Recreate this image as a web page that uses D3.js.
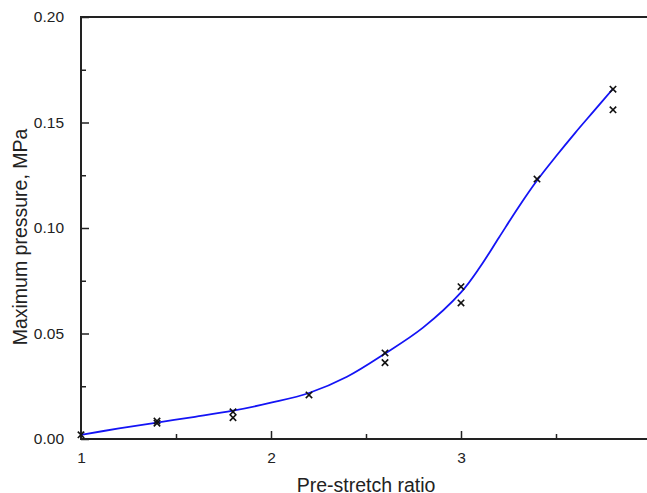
<!DOCTYPE html>
<html>
<head>
<meta charset="utf-8">
<script src="https://cdn.jsdelivr.net/npm/d3@7"></script>
<style>
  html, body { margin: 0; padding: 0; background: #fff; }
  svg { display: block; }
  text { font-family: "Liberation Sans", Arial, sans-serif; fill: #222; }
</style>
</head>
<body>
<script>
// Measured data points (x = pre-stretch ratio, y = maximum pressure, MPa)
const pointX = [1.0, 1.4, 1.4, 1.8, 1.8, 2.2, 2.6, 2.6, 3.0, 3.0, 3.4, 3.8, 3.8];
const pointY = [0.002, 0.0085, 0.0075, 0.0129, 0.0101, 0.0209, 0.0408, 0.0362, 0.0722, 0.0645, 0.1232, 0.1658, 0.156];

// Fitted curve
const curveX = [1.0, 1.2, 1.4, 1.6, 1.8, 2.0, 2.2, 2.4, 2.6, 2.8, 3.0, 3.1, 3.2, 3.3, 3.4, 3.5, 3.6, 3.7, 3.8];
const curveY = [0.002, 0.005, 0.0078, 0.0105, 0.0134, 0.0172, 0.0218, 0.0295, 0.0405, 0.0528, 0.0695, 0.0815, 0.0955, 0.1095, 0.1225, 0.1340, 0.1450, 0.1555, 0.166];

const xMajorTicks = [1, 2, 3, 4];
const xMinorTicks = [1.5, 2.5, 3.5];
const yMajorTicks = [0.00, 0.05, 0.10, 0.15, 0.20];
const yMinorTicks = [0.025, 0.075, 0.125, 0.175];

const xTitle = "Pre-stretch ratio";
const yTitle = "Maximum pressure, MPa";

(function () {
const W = 647, H = 493;
const mLeft = 81, mRight = 651, mTop = 17, mBottom = 439;

const svg = d3.select("body").append("svg").attr("width", W).attr("height", H);

const x = d3.scaleLinear().domain([1, 4]).range([mLeft, mRight]);
const y = d3.scaleLinear().domain([0, 0.2]).range([mBottom, mTop]);

// Frame
const frame = svg.append("g");
frame.append("line").attr("x1", mLeft).attr("x2", mRight).attr("y1", mTop).attr("y2", mTop)
  .attr("stroke", "#222").attr("stroke-width", 2);
frame.append("line").attr("x1", mRight).attr("x2", mRight).attr("y1", mTop).attr("y2", mBottom)
  .attr("stroke", "#222").attr("stroke-width", 2);

// X axis (ticks inward)
const xAxis = d3.axisBottom(x).tickValues(xMajorTicks).tickFormat(d3.format("d"))
  .tickSizeInner(-8).tickSizeOuter(0).tickPadding(13);
const gx = svg.append("g").attr("transform", `translate(0,${mBottom})`).call(xAxis);
gx.select(".domain").attr("stroke", "#222").attr("stroke-width", 2)
  .attr("d", `M${mLeft - 1},0H${mRight}`);
gx.selectAll(".tick line").attr("stroke", "#222").attr("stroke-width", 1.5);
gx.selectAll(".tick text").attr("font-size", 15.5).attr("fill", "#222")
  .style("font-family", "'Liberation Sans', Arial, sans-serif");
const xMinor = d3.axisBottom(x).tickValues(xMinorTicks).tickFormat("").tickSizeInner(-5).tickSizeOuter(0);
const gxm = svg.append("g").attr("transform", `translate(0,${mBottom})`).call(xMinor);
gxm.select(".domain").remove();
gxm.selectAll(".tick line").attr("stroke", "#222").attr("stroke-width", 1.5);

// Y axis (ticks inward)
const yAxis = d3.axisLeft(y).tickValues(yMajorTicks).tickFormat(d3.format(".2f"))
  .tickSizeInner(-8).tickSizeOuter(0).tickPadding(17);
const gy = svg.append("g").attr("transform", `translate(${mLeft},0)`).call(yAxis);
gy.select(".domain").attr("stroke", "#222").attr("stroke-width", 2)
  .attr("d", `M0,${mBottom + 1}V${mTop - 1}`);
gy.selectAll(".tick line").attr("stroke", "#222").attr("stroke-width", 1.5);
gy.selectAll(".tick text").attr("font-size", 15.5).attr("fill", "#222")
  .style("font-family", "'Liberation Sans', Arial, sans-serif");
const yMinor = d3.axisLeft(y).tickValues(yMinorTicks).tickFormat("").tickSizeInner(-5).tickSizeOuter(0);
const gym = svg.append("g").attr("transform", `translate(${mLeft},0)`).call(yMinor);
gym.select(".domain").remove();
gym.selectAll(".tick line").attr("stroke", "#222").attr("stroke-width", 1.5);

// Fitted curve
const curveData = curveX.map((v, i) => [v, curveY[i]]);
svg.append("path")
  .datum(curveData)
  .attr("fill", "none")
  .attr("stroke", "#1414f5")
  .attr("stroke-width", 1.8)
  .attr("d", d3.line().x(d => x(d[0])).y(d => y(d[1])).curve(d3.curveCatmullRom.alpha(0.5)));

// Markers (×)
const pts = pointX.map((v, i) => [v, pointY[i]]);
const s = 3.2;
svg.append("g").selectAll("path").data(pts).join("path")
  .attr("transform", d => `translate(${x(d[0])},${y(d[1])})`)
  .attr("d", `M${-s},${-s}L${s},${s}M${-s},${s}L${s},${-s}`)
  .attr("stroke", "#111").attr("stroke-width", 1.6).attr("fill", "none");

// Titles
svg.append("text")
  .attr("x", (mLeft + mRight) / 2).attr("y", 492)
  .attr("text-anchor", "middle").attr("font-size", 19.5)
  .text(xTitle);
svg.append("text")
  .attr("transform", `translate(27,237) rotate(-90)`)
  .attr("text-anchor", "middle").attr("font-size", 19.5)
  .text(yTitle);
})();
</script>
</body>
</html>
